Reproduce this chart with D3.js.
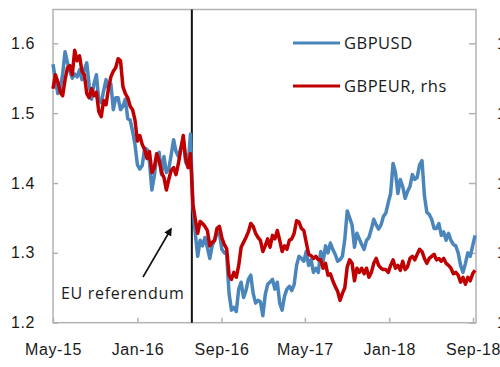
<!DOCTYPE html>
<html>
<head>
<meta charset="utf-8">
<script src="https://cdn.jsdelivr.net/npm/d3@7"></script>
<style>
  html, body { margin: 0; padding: 0; background: #fff; }
  svg { display: block; font-family: "Open Sans", "Noto Sans", sans-serif; }
  .axis text { font-size: 16px; fill: #1a1a1a; letter-spacing: 0.6px; }
  .axis path { display: none; }
  .axis line { stroke: #b3b3b3; stroke-width: 1.5; }
</style>
</head>
<body>
<svg id="chart" width="500" height="367"></svg>
<script>
// Weekly closes (Fridays) starting mid-May 2015
const firstWeek = "2015-05-15";

// GBP/USD, left axis
const gbpusd = [
  1.570, 1.548, 1.528, 1.535, 1.556, 1.588, 1.572, 1.560, 1.550, 1.556,
  1.552, 1.562, 1.548, 1.562, 1.572, 1.540, 1.520, 1.542, 1.555, 1.518,
  1.515, 1.532, 1.548, 1.535, 1.542, 1.505, 1.522, 1.522, 1.505, 1.510,
  1.520, 1.492, 1.490, 1.474, 1.455, 1.426, 1.420, 1.425, 1.450, 1.448,
  1.430, 1.390, 1.410, 1.438, 1.444, 1.412, 1.438, 1.415, 1.420, 1.440,
  1.462, 1.445, 1.438, 1.450, 1.464, 1.430, 1.424, 1.470, 1.368, 1.328,
  1.295, 1.318, 1.310, 1.322, 1.308, 1.292, 1.310, 1.318, 1.328, 1.328,
  1.305, 1.300, 1.298, 1.242, 1.218, 1.222, 1.216, 1.248, 1.258, 1.236,
  1.246, 1.262, 1.268, 1.242, 1.228, 1.232, 1.230, 1.210, 1.240, 1.255,
  1.258, 1.262, 1.248, 1.258, 1.228, 1.218, 1.238, 1.248, 1.252, 1.246,
  1.255, 1.282, 1.295, 1.292, 1.288, 1.302, 1.282, 1.290, 1.272, 1.278,
  1.272, 1.302, 1.288, 1.310, 1.300, 1.314, 1.305, 1.298, 1.288, 1.290,
  1.295, 1.320, 1.360, 1.350, 1.340, 1.308, 1.328, 1.320, 1.312, 1.305,
  1.318, 1.322, 1.334, 1.348, 1.340, 1.334, 1.340, 1.352, 1.357, 1.372,
  1.385, 1.428, 1.415, 1.385, 1.405, 1.395, 1.378, 1.388, 1.395, 1.412,
  1.405, 1.408, 1.426, 1.432, 1.382, 1.358, 1.355, 1.348, 1.335, 1.335,
  1.342, 1.325, 1.330, 1.318, 1.328, 1.318, 1.312, 1.310, 1.300, 1.282,
  1.272, 1.285, 1.300, 1.295, 1.310, 1.325
];

// GBP/EUR, right-hand axis
const gbpeur = [
  1.385, 1.405, 1.395, 1.380, 1.375, 1.398, 1.415, 1.418, 1.405, 1.440,
  1.425, 1.432, 1.410, 1.405, 1.378, 1.372, 1.385, 1.375, 1.380, 1.352,
  1.345, 1.368, 1.362, 1.385, 1.402, 1.410, 1.415, 1.428, 1.425, 1.388,
  1.378, 1.372, 1.360, 1.355, 1.340, 1.310, 1.318, 1.305, 1.298, 1.285,
  1.295, 1.265, 1.272, 1.292, 1.282, 1.265, 1.258, 1.240, 1.255, 1.268,
  1.272, 1.262, 1.278, 1.298, 1.318, 1.285, 1.272, 1.292, 1.220, 1.198,
  1.178, 1.195, 1.192, 1.188, 1.182, 1.160, 1.165, 1.168, 1.185, 1.188,
  1.172, 1.162, 1.156, 1.118, 1.112, 1.122, 1.115, 1.132, 1.158, 1.165,
  1.172, 1.180, 1.192, 1.188, 1.178, 1.172, 1.168, 1.152, 1.160, 1.170,
  1.158, 1.175, 1.170, 1.182, 1.168, 1.152, 1.160, 1.155, 1.168, 1.170,
  1.178, 1.196, 1.194, 1.185, 1.182, 1.165, 1.148, 1.146, 1.142, 1.145,
  1.140, 1.140, 1.128, 1.135, 1.118, 1.120, 1.110, 1.102, 1.095, 1.082,
  1.092, 1.100, 1.130, 1.140, 1.135, 1.110, 1.128, 1.122, 1.128, 1.120,
  1.128, 1.115, 1.122, 1.135, 1.142, 1.132, 1.128, 1.126, 1.126, 1.122,
  1.132, 1.140, 1.128, 1.132, 1.125, 1.138, 1.126, 1.130, 1.142, 1.145,
  1.140, 1.148, 1.155, 1.152, 1.142, 1.135, 1.142, 1.145, 1.148, 1.140,
  1.142, 1.138, 1.142, 1.135, 1.132, 1.128, 1.120, 1.122, 1.118, 1.108,
  1.115, 1.105, 1.115, 1.110, 1.120, 1.125
];

const xTickDates = ["2015-05-15", "2016-01-15", "2016-09-15", "2017-05-15", "2018-01-15", "2018-09-15"];
const leftTicks = [1.2, 1.3, 1.4, 1.5, 1.6];
const rightTicks = [1.05, 1.15, 1.25, 1.35, 1.45];
const seriesNames = ["GBPUSD", "GBPEUR, rhs"];
const seriesColors = ["#4a86bb", "#c00000"];
const referendumDate = "2016-06-21";
const referendumLabel = "EU referendum";

const parse = d3.timeParse("%Y-%m-%d");
const start = parse(firstWeek);
const dates = gbpusd.map((_, i) => d3.timeWeek.offset(start, i));

const plot = { left: 53, right: 476, top: 9.5, bottom: 322.7 };

const x = d3.scaleTime()
  .domain([parse(xTickDates[0]), parse(xTickDates[xTickDates.length - 1])])
  .range([53, 473]);
const y = d3.scaleLinear().domain([1.2, 1.6]).range([plot.bottom, 43.3]);
const yR = d3.scaleLinear().domain([1.05, 1.45]).range([plot.bottom, 43.3]);

const svg = d3.select("#chart");

// plot frame
svg.append("rect")
  .attr("x", plot.left).attr("y", plot.top)
  .attr("width", plot.right - plot.left).attr("height", plot.bottom - plot.top)
  .attr("fill", "none").attr("stroke", "#b3b3b3").attr("stroke-width", 1.5);

svg.append("g").attr("class", "axis")
  .attr("transform", `translate(${plot.left},0)`)
  .call(d3.axisLeft(y).tickValues(leftTicks).tickFormat(d3.format(".1f")).tickSize(-5).tickPadding(18));

// right-hand axis labels run past the right edge of the figure
svg.append("g").attr("class", "axis")
  .attr("transform", `translate(${plot.right},0)`)
  .call(d3.axisRight(yR).tickValues(rightTicks).tickFormat(d3.format(".2f")).tickSize(-7).tickPadding(21));

svg.append("g").attr("class", "axis")
  .attr("transform", `translate(0,${plot.bottom})`)
  .call(d3.axisBottom(x).tickValues(xTickDates.map(parse)).tickFormat(d3.timeFormat("%b-%y")).tickSize(-5).tickPadding(21));

// referendum marker
const xr = x(parse(referendumDate));
svg.append("line")
  .attr("x1", xr).attr("x2", xr).attr("y1", plot.top).attr("y2", plot.bottom)
  .attr("stroke", "#111").attr("stroke-width", 2);

const lineUsd = d3.line().x((d, i) => x(dates[i])).y(d => y(d));
const lineEur = d3.line().x((d, i) => x(dates[i])).y(d => yR(d));

svg.append("path").datum(gbpusd)
  .attr("d", lineUsd).attr("fill", "none")
  .attr("stroke", seriesColors[0]).attr("stroke-width", 3.5).attr("stroke-linejoin", "round");
svg.append("path").datum(gbpeur)
  .attr("d", lineEur).attr("fill", "none")
  .attr("stroke", seriesColors[1]).attr("stroke-width", 3.5).attr("stroke-linejoin", "round");

// legend
const legend = svg.append("g");
seriesNames.forEach((name, i) => {
  const ly = 43 + i * 43;
  legend.append("line")
    .attr("x1", 293).attr("x2", 340).attr("y1", ly).attr("y2", ly)
    .attr("stroke", seriesColors[i]).attr("stroke-width", 3);
  legend.append("text")
    .attr("x", 344).attr("y", ly).attr("dy", "0.35em")
    .attr("font-size", 16.5).attr("letter-spacing", "0.5px").attr("fill", "#1a1a1a")
    .text(name);
});

// annotation
const defs = svg.append("defs");
defs.append("marker")
  .attr("id", "arrowhead").attr("viewBox", "0 0 10 10")
  .attr("refX", 8).attr("refY", 5)
  .attr("markerWidth", 5).attr("markerHeight", 5)
  .attr("orient", "auto")
  .append("path").attr("d", "M0,0 L10,5 L0,10 Z").attr("fill", "#111");

svg.append("line")
  .attr("x1", 143).attr("y1", 277).attr("x2", 171).attr("y2", 229)
  .attr("stroke", "#111").attr("stroke-width", 1.6)
  .attr("marker-end", "url(#arrowhead)");

svg.append("text")
  .attr("x", 61).attr("y", 293).attr("dy", "0.35em")
  .attr("font-size", 16).attr("letter-spacing", "0.7px").attr("fill", "#1a1a1a")
  .text(referendumLabel);
</script>
</body>
</html>
